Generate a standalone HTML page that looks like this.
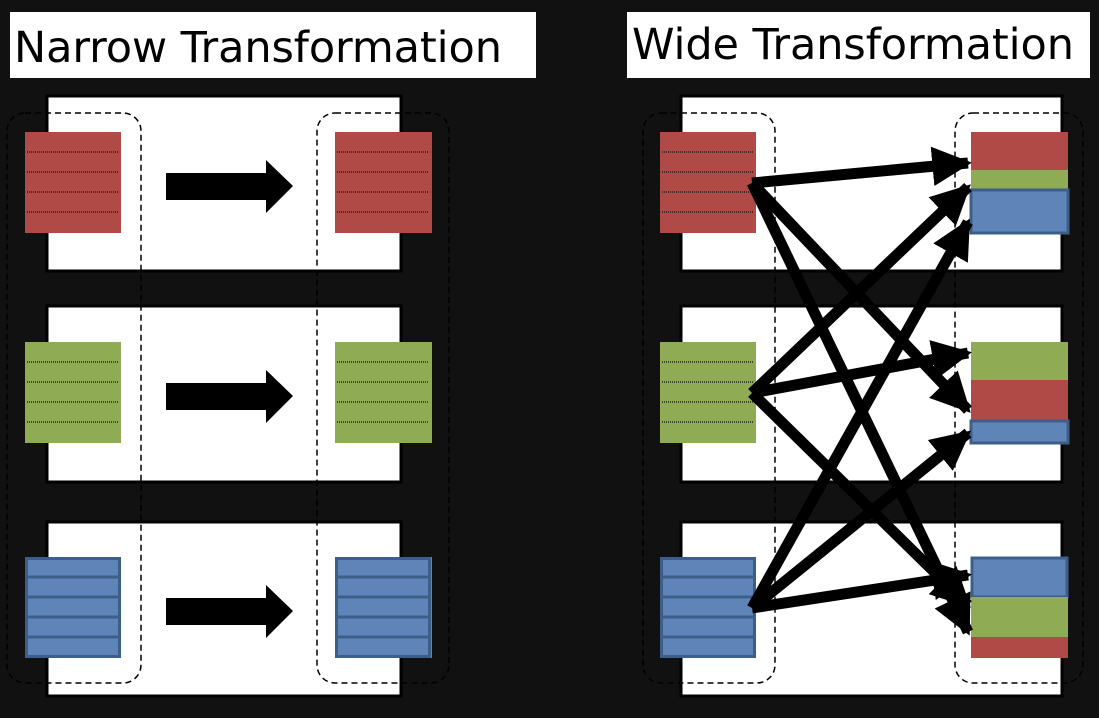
<!DOCTYPE html>
<html><head><style>
body{margin:0;background:#111;width:1099px;height:714px;overflow:hidden;font-family:"DejaVu Sans","Liberation Sans",sans-serif}
</style></head><body>
<svg width="1099" height="714" xmlns="http://www.w3.org/2000/svg">
<rect width="1099" height="714" fill="#111"/>
<rect x="10" y="12" width="526" height="66" fill="#fff"/>
<text x="14" y="62" font-size="43" fill="#000" font-family="DejaVu Sans, sans-serif" textLength="488">Narrow Transformation</text>
<rect x="627" y="12" width="463" height="66" fill="#fff"/>
<text x="632" y="59" font-size="43" fill="#000" font-family="DejaVu Sans, sans-serif" textLength="442">Wide Transformation</text>
<g fill="#fff" stroke="#000" stroke-width="3">
<rect x="47" y="96" width="354" height="175"/><rect x="47" y="306" width="354" height="176"/><rect x="47" y="522" width="354" height="174"/>
<rect x="681" y="96" width="381" height="175"/><rect x="681" y="306" width="381" height="176"/><rect x="681" y="522" width="381" height="174"/>
</g>
<g fill="none" stroke="#000" stroke-width="1.5" stroke-dasharray="6,4">
<rect x="7" y="113" width="134" height="570" rx="18"/><rect x="317" y="113" width="132" height="570" rx="18"/>
<rect x="643" y="113" width="132" height="570" rx="18"/><rect x="955" y="113" width="128" height="570" rx="18"/>
</g>
<defs>
<g id="lines" stroke="#111" stroke-width="1.2" stroke-dasharray="1,1" fill="none">
<line x1="2" y1="20" x2="94" y2="20"/><line x1="2" y1="40" x2="94" y2="40"/><line x1="2" y1="60" x2="94" y2="60"/><line x1="2" y1="80" x2="94" y2="80"/>
</g>
<g id="blines" stroke="#3e5e8a" stroke-width="3" fill="none">
<rect x="1.5" y="1.5" width="93" height="98"/>
<line x1="2" y1="20" x2="94" y2="20"/><line x1="2" y1="40" x2="94" y2="40"/><line x1="2" y1="60" x2="94" y2="60"/><line x1="2" y1="80" x2="94" y2="80"/>
</g>
</defs>
<g>
<rect x="25" y="132" width="96" height="101" fill="#b04a47"/><use href="#lines" x="25" y="132"/>
<rect x="335" y="132" width="97" height="101" fill="#b04a47"/><use href="#lines" x="335" y="132"/>
<rect x="25" y="342" width="96" height="101" fill="#8fac55"/><use href="#lines" x="25" y="342"/>
<rect x="335" y="342" width="97" height="101" fill="#8fac55"/><use href="#lines" x="335" y="342"/>
<rect x="25" y="557" width="96" height="101" fill="#5f85b8"/><use href="#blines" x="25" y="557"/>
<rect x="335" y="557" width="97" height="101" fill="#5f85b8"/><use href="#blines" x="335" y="557"/>
<rect x="660" y="132" width="96" height="101" fill="#b04a47"/><use href="#lines" x="660" y="132"/>
<rect x="660" y="342" width="96" height="101" fill="#8fac55"/><use href="#lines" x="660" y="342"/>
<rect x="660" y="557" width="96" height="101" fill="#5f85b8"/><use href="#blines" x="660" y="557"/>
<rect x="971" y="132" width="97" height="38" fill="#b04a47"/><rect x="971" y="170" width="97" height="20" fill="#8fac55"/><rect x="971" y="190" width="97" height="43" fill="#5f85b8" stroke="#3e5e8a" stroke-width="3"/>
<rect x="971" y="342" width="97" height="38" fill="#8fac55"/><rect x="971" y="380" width="97" height="40" fill="#b04a47"/><rect x="971" y="421" width="97" height="22" fill="#5f85b8" stroke="#3e5e8a" stroke-width="3"/>
<rect x="972" y="558" width="95" height="39" fill="#5f85b8" stroke="#3e5e8a" stroke-width="3"/><rect x="971" y="597" width="97" height="40" fill="#8fac55"/><rect x="971" y="637" width="97" height="21" fill="#b04a47"/>
</g>
<g fill="#000">
<polygon points="166,173 266,173 266,160 293,186 266,213 266,200 166,200"/>
<polygon points="166,383 266,383 266,370 293,396 266,423 266,410 166,410"/>
<polygon points="166,598 266,598 266,585 293,611 266,638 266,625 166,625"/>
</g>
<defs><marker id="ah" viewBox="0 0 10 10" refX="9" refY="5" markerWidth="3.6" markerHeight="3.6" orient="auto" markerUnits="strokeWidth"><path d="M0,0 L10,5 L0,10 z" fill="#000"/></marker></defs>
<g stroke="#000" stroke-width="11" marker-end="url(#ah)" fill="none">
<line x1="752" y1="183" x2="968" y2="163"/>
<line x1="752" y1="183" x2="968" y2="410"/>
<line x1="752" y1="183" x2="968" y2="632"/>
<line x1="752" y1="393" x2="968" y2="187"/>
<line x1="752" y1="393" x2="968" y2="353"/>
<line x1="752" y1="393" x2="968" y2="605"/>
<line x1="752" y1="608" x2="968" y2="222"/>
<line x1="752" y1="608" x2="968" y2="433"/>
<line x1="752" y1="608" x2="968" y2="575"/>
</g>
</svg>
</body></html>
